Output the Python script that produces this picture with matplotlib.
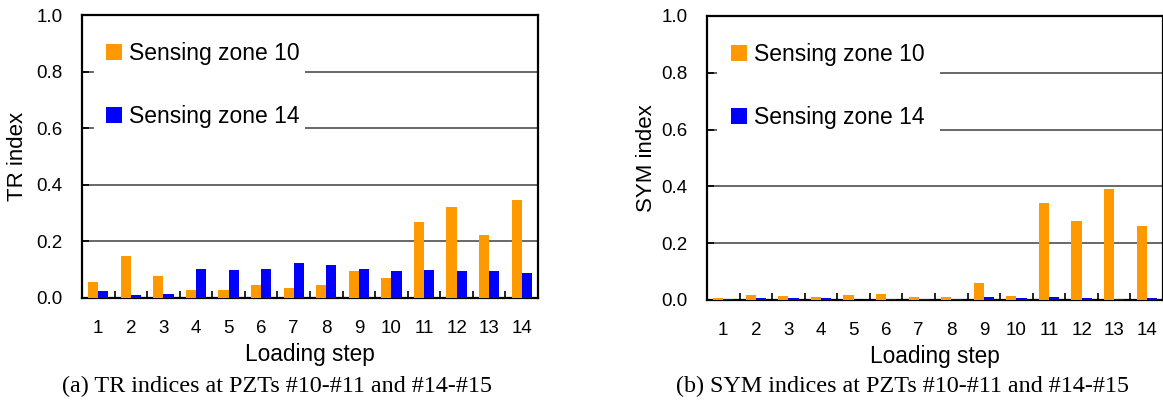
import numpy as np
import matplotlib.pyplot as plt
from matplotlib.patches import Rectangle

plt.rcParams['font.family'] = ['Liberation Sans', 'DejaVu Sans']

steps = [str(i) for i in range(1, 15)]

tr_zone10 = [0.056, 0.148, 0.076, 0.028, 0.027, 0.047, 0.036, 0.047, 0.097, 0.072,
             0.268, 0.322, 0.223, 0.347]
tr_zone14 = [0.026, 0.010, 0.015, 0.104, 0.100, 0.102, 0.123, 0.116, 0.102, 0.097,
             0.098, 0.096, 0.097, 0.088]

sym_zone10 = [0.007, 0.017, 0.013, 0.009, 0.019, 0.021, 0.012, 0.011, 0.060, 0.013,
              0.340, 0.279, 0.392, 0.261]
sym_zone14 = [0.005, 0.008, 0.008, 0.007, 0.001, 0.004, 0.004, 0.004, 0.009, 0.006,
              0.009, 0.007, 0.004, 0.007]

ORANGE = '#FF9900'
BLUE = '#0000FF'
W, H = 1163, 408


def draw_panel(ax, z10, z14, ylabel, ylabel_x, cover):
    x = np.arange(len(steps))
    bw = 0.31
    ax.bar(x - 0.155, z10, bw, color=ORANGE, label='Sensing zone 10', zorder=3)
    ax.bar(x + 0.155, z14, bw, color=BLUE, label='Sensing zone 14', zorder=3)

    ax.set_xlim(-0.5, len(steps) - 0.5)
    ax.set_ylim(0, 1.0)
    ax.set_xticks(x)
    ax.set_xticklabels(steps)
    ax.set_xticks(np.arange(len(steps) + 1) - 0.5, minor=True)
    ax.set_yticks(np.arange(0, 1.01, 0.2))
    ax.set_yticklabels(['%.1f' % v for v in np.arange(0, 1.01, 0.2)])
    ax.tick_params(axis='x', which='major', length=0, pad=16, labelsize=13.5)
    ax.tick_params(axis='x', which='minor', direction='in', length=5, width=1.2)
    ax.tick_params(axis='y', direction='in', length=5, width=1.2, pad=14, labelsize=13.5)

    ax.set_axisbelow(True)
    ax.yaxis.grid(True, color='#404040', linewidth=1.1, zorder=0)
    for s in ax.spines.values():
        s.set_linewidth(1.6)
        s.set_color('black')

    # white box behind the legend hides the upper grid lines
    ax.add_patch(Rectangle((cover[0], 0.5), cover[1] - cover[0], 0.45,
                           transform=ax.transAxes, facecolor='white',
                           edgecolor='none', zorder=1))

    ax.legend(loc='upper left', bbox_to_anchor=(0.052, 0.905), frameon=False,
              fontsize=16.5, handlelength=0.72, handleheight=0.72,
              handletextpad=0.3, labelspacing=1.75, borderpad=0, borderaxespad=0)

    ax.set_ylabel(ylabel, fontsize=16)
    ax.yaxis.set_label_coords(ylabel_x, 0.5)
    ax.yaxis.label.set_va('center')
    ax.set_xlabel('Loading step', fontsize=16.3)
    ax.xaxis.set_label_coords(0.5, -0.2)
    ax.xaxis.label.set_va('center')


fig = plt.figure(figsize=(W / 100, H / 100), dpi=100)
ax1 = fig.add_axes([82 / W, 1 - 298 / H, 456 / W, 283 / H])
ax2 = fig.add_axes([707 / W, 1 - 300 / H, 456 / W, 284 / H])

draw_panel(ax1, tr_zone10, tr_zone14, 'TR index', -0.141, (0.026, 0.489))
draw_panel(ax2, sym_zone10, sym_zone14, 'SYM index', -0.133, (0.021, 0.511))

fig.text(277 / W, 1 - 386 / H, '(a) TR indices at PZTs #10-#11 and #14-#15',
         ha='center', va='center', fontsize=17.4, family='Liberation Serif')
fig.text(902 / W, 1 - 386 / H, '(b) SYM indices at PZTs #10-#11 and #14-#15',
         ha='center', va='center', fontsize=17.4, family='Liberation Serif')

fig.savefig('out.png', dpi=100)
